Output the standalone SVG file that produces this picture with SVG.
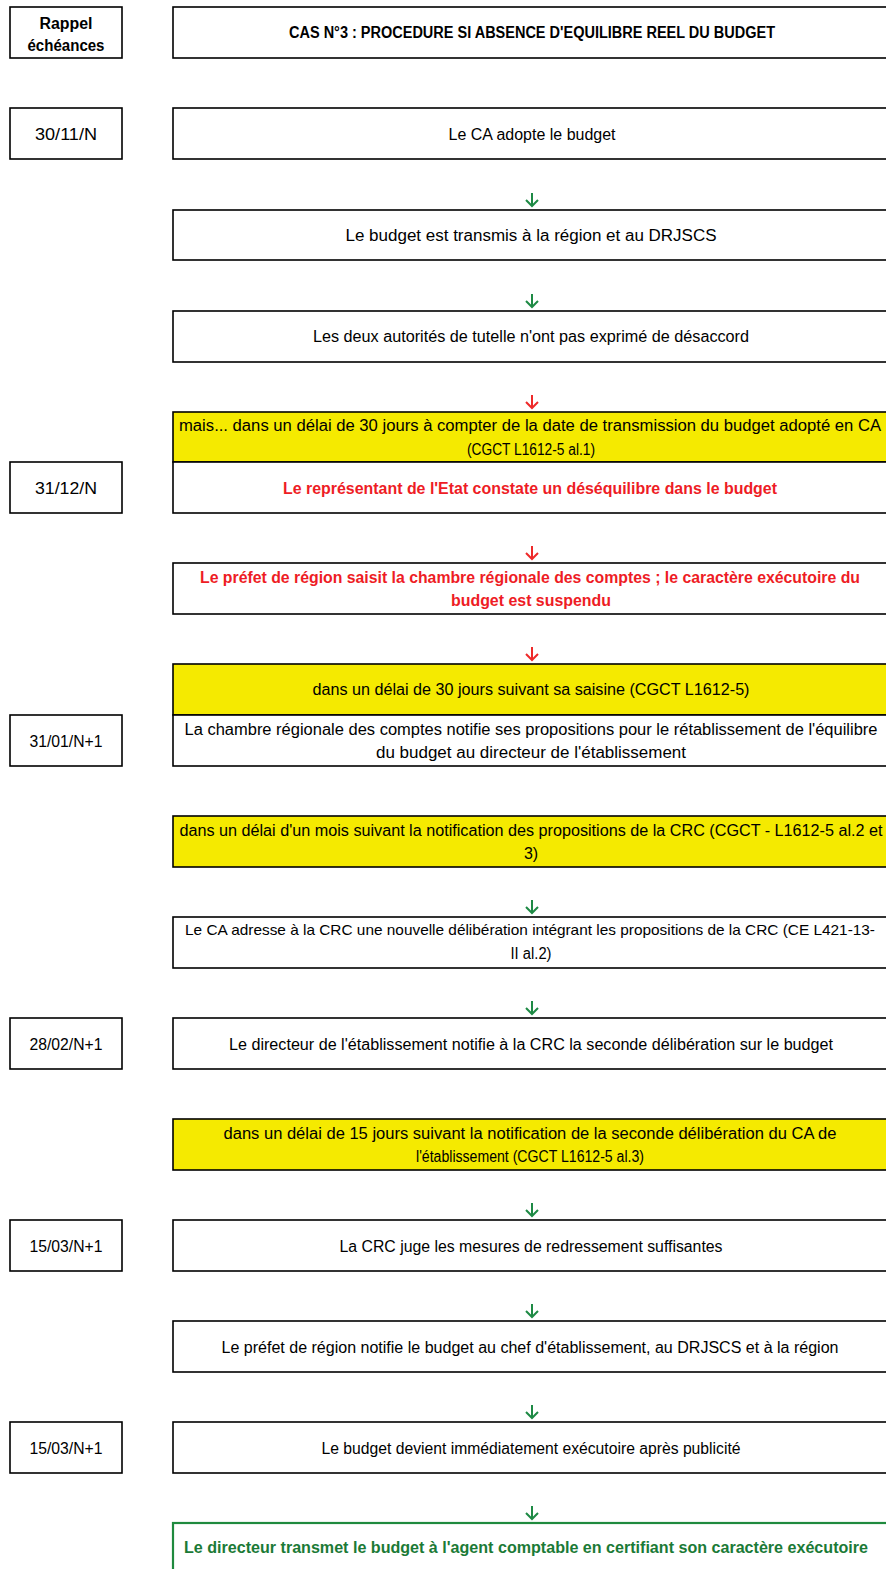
<svg xmlns="http://www.w3.org/2000/svg" width="886" height="1569" viewBox="0 0 886 1569">
<style>
text{font-family:"Liberation Sans",Arial,sans-serif;font-size:16px;fill:#000;text-anchor:middle}
.b{font-weight:bold}
.r{fill:#EE1C25;font-weight:bold}
.g{fill:#1B7A36;font-weight:bold}
.box{fill:#fff;stroke:#000;stroke-width:1.6}
.y{fill:#F5EA00;stroke:#000;stroke-width:1.6}
.gb{fill:#fff;stroke:#1F8A3E;stroke-width:2.2}
.ag{stroke:#1E8A45;stroke-width:2;fill:none}
.ar{stroke:#EE2A2A;stroke-width:2;fill:none}
</style>
<g id="dates">
<g id="d0"><rect class="box" x="10" y="7" width="112" height="51"/><text class="b" x="66" y="29" textLength="53" lengthAdjust="spacingAndGlyphs">Rappel</text><text class="b" x="66" y="51" textLength="77" lengthAdjust="spacingAndGlyphs">échéances</text></g>
<g id="d1"><rect class="box" x="10" y="108" width="112" height="51"/><text x="66" y="140" textLength="62" lengthAdjust="spacingAndGlyphs">30/11/N</text></g>
<g id="d2"><rect class="box" x="10" y="462" width="112" height="51"/><text x="66" y="494" textLength="62" lengthAdjust="spacingAndGlyphs">31/12/N</text></g>
<g id="d3"><rect class="box" x="10" y="715" width="112" height="51"/><text x="66" y="747" textLength="73" lengthAdjust="spacingAndGlyphs">31/01/N+1</text></g>
<g id="d4"><rect class="box" x="10" y="1018" width="112" height="51"/><text x="66" y="1050" textLength="73" lengthAdjust="spacingAndGlyphs">28/02/N+1</text></g>
<g id="d5"><rect class="box" x="10" y="1220" width="112" height="51"/><text x="66" y="1252" textLength="73" lengthAdjust="spacingAndGlyphs">15/03/N+1</text></g>
<g id="d6"><rect class="box" x="10" y="1422" width="112" height="51"/><text x="66" y="1454" textLength="73" lengthAdjust="spacingAndGlyphs">15/03/N+1</text></g>
</g>
<g id="n0"><rect class="box" x="173" y="7" width="720" height="51"/><text class="b" x="532" y="38" textLength="486" lengthAdjust="spacingAndGlyphs">CAS N°3 : PROCEDURE SI ABSENCE D'EQUILIBRE REEL DU BUDGET</text></g>
<g id="n1"><rect class="box" x="173" y="108" width="720" height="51"/><text x="532" y="140" textLength="167" lengthAdjust="spacingAndGlyphs">Le CA adopte le budget</text></g>
<g id="n2"><rect class="box" x="173" y="210" width="720" height="50"/><text x="531" y="241" textLength="371" lengthAdjust="spacingAndGlyphs">Le budget est transmis à la région et au DRJSCS</text></g>
<g id="n3"><rect class="box" x="173" y="311" width="720" height="51"/><text x="531" y="342" textLength="436" lengthAdjust="spacingAndGlyphs">Les deux autorités de tutelle n'ont pas exprimé de désaccord</text></g>
<g id="n4"><rect class="y" x="173" y="412" width="720" height="50"/><text x="530" y="431" textLength="702" lengthAdjust="spacingAndGlyphs">mais... dans un délai de 30 jours à compter de la date de transmission du budget adopté en CA</text><text x="531" y="455" textLength="128" lengthAdjust="spacingAndGlyphs">(CGCT L1612-5 al.1)</text></g>
<g id="n5"><rect class="box" x="173" y="462" width="720" height="51"/><text class="r" x="530" y="494" textLength="494" lengthAdjust="spacingAndGlyphs">Le représentant de l'Etat constate un déséquilibre dans le budget</text></g>
<g id="n6"><rect class="box" x="173" y="563" width="720" height="51"/><text class="r" x="530" y="583" textLength="660" lengthAdjust="spacingAndGlyphs">Le préfet de région saisit la chambre régionale des comptes ; le caractère exécutoire du</text><text class="r" x="531" y="606" textLength="160" lengthAdjust="spacingAndGlyphs">budget est suspendu</text></g>
<g id="n7"><rect class="y" x="173" y="664" width="720" height="51"/><text x="531" y="695" textLength="437" lengthAdjust="spacingAndGlyphs">dans un délai de 30 jours suivant sa saisine (CGCT L1612-5)</text></g>
<g id="n8"><rect class="box" x="173" y="715" width="720" height="51"/><text x="531" y="735" textLength="693" lengthAdjust="spacingAndGlyphs">La chambre régionale des comptes notifie ses propositions pour le rétablissement de l'équilibre</text><text x="531" y="758" textLength="310" lengthAdjust="spacingAndGlyphs">du budget au directeur de l'établissement</text></g>
<g id="n9"><rect class="y" x="173" y="816" width="720" height="51"/><text x="531" y="836" textLength="703" lengthAdjust="spacingAndGlyphs">dans un délai d'un mois suivant la notification des propositions de la CRC (CGCT - L1612-5 al.2 et</text><text x="531" y="859">3)</text></g>
<g id="n10"><rect class="box" x="173" y="917" width="720" height="51"/><text x="530" y="935" style="font-size:15px" textLength="690" lengthAdjust="spacingAndGlyphs">Le CA adresse à la CRC une nouvelle délibération intégrant les propositions de la CRC (CE L421-13-</text><text x="531" y="959" textLength="41" lengthAdjust="spacingAndGlyphs">II al.2)</text></g>
<g id="n11"><rect class="box" x="173" y="1018" width="720" height="51"/><text x="531" y="1050" textLength="604" lengthAdjust="spacingAndGlyphs">Le directeur de l'établissement notifie à la CRC la seconde délibération sur le budget</text></g>
<g id="n12"><rect class="y" x="173" y="1119" width="720" height="51"/><text x="530" y="1139" textLength="613" lengthAdjust="spacingAndGlyphs">dans un délai de 15 jours suivant la notification de la seconde délibération du CA de</text><text x="530" y="1162" textLength="228" lengthAdjust="spacingAndGlyphs">l'établissement (CGCT L1612-5 al.3)</text></g>
<g id="n13"><rect class="box" x="173" y="1220" width="720" height="51"/><text x="531" y="1252" textLength="383" lengthAdjust="spacingAndGlyphs">La CRC juge les mesures de redressement suffisantes</text></g>
<g id="n14"><rect class="box" x="173" y="1321" width="720" height="51"/><text x="530" y="1353" textLength="617" lengthAdjust="spacingAndGlyphs">Le préfet de région notifie le budget au chef d'établissement, au DRJSCS et à la région</text></g>
<g id="n15"><rect class="box" x="173" y="1422" width="720" height="51"/><text x="531" y="1454" textLength="419" lengthAdjust="spacingAndGlyphs">Le budget devient immédiatement exécutoire après publicité</text></g>
<g id="n16"><rect class="gb" x="173" y="1523" width="720" height="60"/><text class="g" x="526" y="1553" textLength="684" lengthAdjust="spacingAndGlyphs">Le directeur transmet le budget à l'agent comptable en certifiant son caractère exécutoire</text></g>
<g id="connectors">
<path class="ag" d="M532 193V206M526 200L532 206L538 200"/>
<path class="ag" d="M532 294V307M526 301L532 307L538 301"/>
<path class="ar" d="M532 395V408M526 402L532 408L538 402"/>
<path class="ar" d="M532 546V559M526 553L532 559L538 553"/>
<path class="ar" d="M532 647V660M526 654L532 660L538 654"/>
<path class="ag" d="M532 900V913M526 907L532 913L538 907"/>
<path class="ag" d="M532 1001V1014M526 1008L532 1014L538 1008"/>
<path class="ag" d="M532 1203V1216M526 1210L532 1216L538 1210"/>
<path class="ag" d="M532 1304V1317M526 1311L532 1317L538 1311"/>
<path class="ag" d="M532 1405V1418M526 1412L532 1418L538 1412"/>
<path class="ag" d="M532 1506V1519M526 1513L532 1519L538 1513"/>
</g>
</svg>
